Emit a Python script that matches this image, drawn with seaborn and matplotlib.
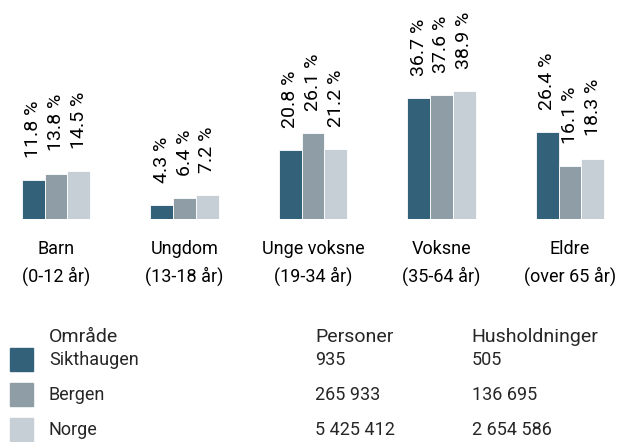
import pandas as pd
import seaborn as sns
import matplotlib.pyplot as plt
from matplotlib.patches import Rectangle


sns.set_theme(style="white")
plt.rcParams['font.family'] = ['Roboto', 'DejaVu Sans']

groups = ["Barn", "Ungdom", "Unge voksne", "Voksne", "Eldre"]
ages = ["(0-12 år)", "(13-18 år)", "(19-34 år)", "(35-64 år)", "(over 65 år)"]
areas = ["Sikthaugen", "Bergen", "Norge"]
sikthaugen = [11.8, 4.3, 20.8, 36.7, 26.4]
bergen = [13.8, 6.4, 26.1, 37.6, 16.1]
norge = [14.5, 7.2, 21.2, 38.9, 18.3]
persons = ["935", "265 933", "5 425 412"]
households = ["505", "136 695", "2 654 586"]
colors = ["#33617A", "#8F9EA6", "#C6CFD5"]

df = pd.DataFrame({
    'gruppe': groups * 3,
    'omrade': [a for a in areas for _ in groups],
    'andel': sikthaugen + bergen + norge,
})

fig = plt.figure(figsize=(6.3, 4.42), dpi=100)

# bar chart: baseline at y=219 px, group centres 128.5 px apart
ax = fig.add_axes([0, (442 - 219) / 442, 1, 219 / 442])
sns.barplot(data=df, x='gruppe', y='andel', hue='omrade', palette=colors,
            width=0.53, saturation=1, legend=False, edgecolor='white',
            linewidth=0.6, ax=ax)
for cont in ax.containers:
    ax.bar_label(cont, labels=[f"{v:.1f} %" for v in cont.datavalues],
                 padding=16, rotation=90, fontsize=14, color='black')
ax.set_xlim(-56 / 128.5, 4 + 60 / 128.5)
ax.set_ylim(0, 219 / 3.297)
ax.set_xticks(range(len(groups)))
ax.set_xticklabels([f"{g}\n{a}" for g, a in zip(groups, ages)],
                   fontsize=13, linespacing=1.6)
ax.tick_params(axis='x', length=0, pad=15, colors='black')
ax.set_yticks([])
ax.set_xlabel('')
ax.set_ylabel('')
sns.despine(ax=ax, left=True, bottom=True)

# legend table in pixel coordinates
lax = fig.add_axes([0, 0, 1, 132 / 442])
lax.set_xlim(0, 630)
lax.set_ylim(442, 310)
lax.axis('off')
lax.text(49, 341.7, "Område", fontsize=14, va='baseline')
lax.text(315, 341.7, "Personer", fontsize=14, va='baseline')
lax.text(471.5, 341.7, "Husholdninger", fontsize=14, va='baseline')
row_base = [365, 400, 435]
for i, area in enumerate(areas):
    lax.add_patch(Rectangle((10, row_base[i] - 16.7), 22.7, 22.7, color=colors[i]))
    lax.text(49, row_base[i], area, fontsize=13, va='baseline')
    lax.text(315, row_base[i], persons[i], fontsize=13, va='baseline')
    lax.text(471.5, row_base[i], households[i], fontsize=13, va='baseline')

fig.savefig("out.png", dpi=100, facecolor='white')
